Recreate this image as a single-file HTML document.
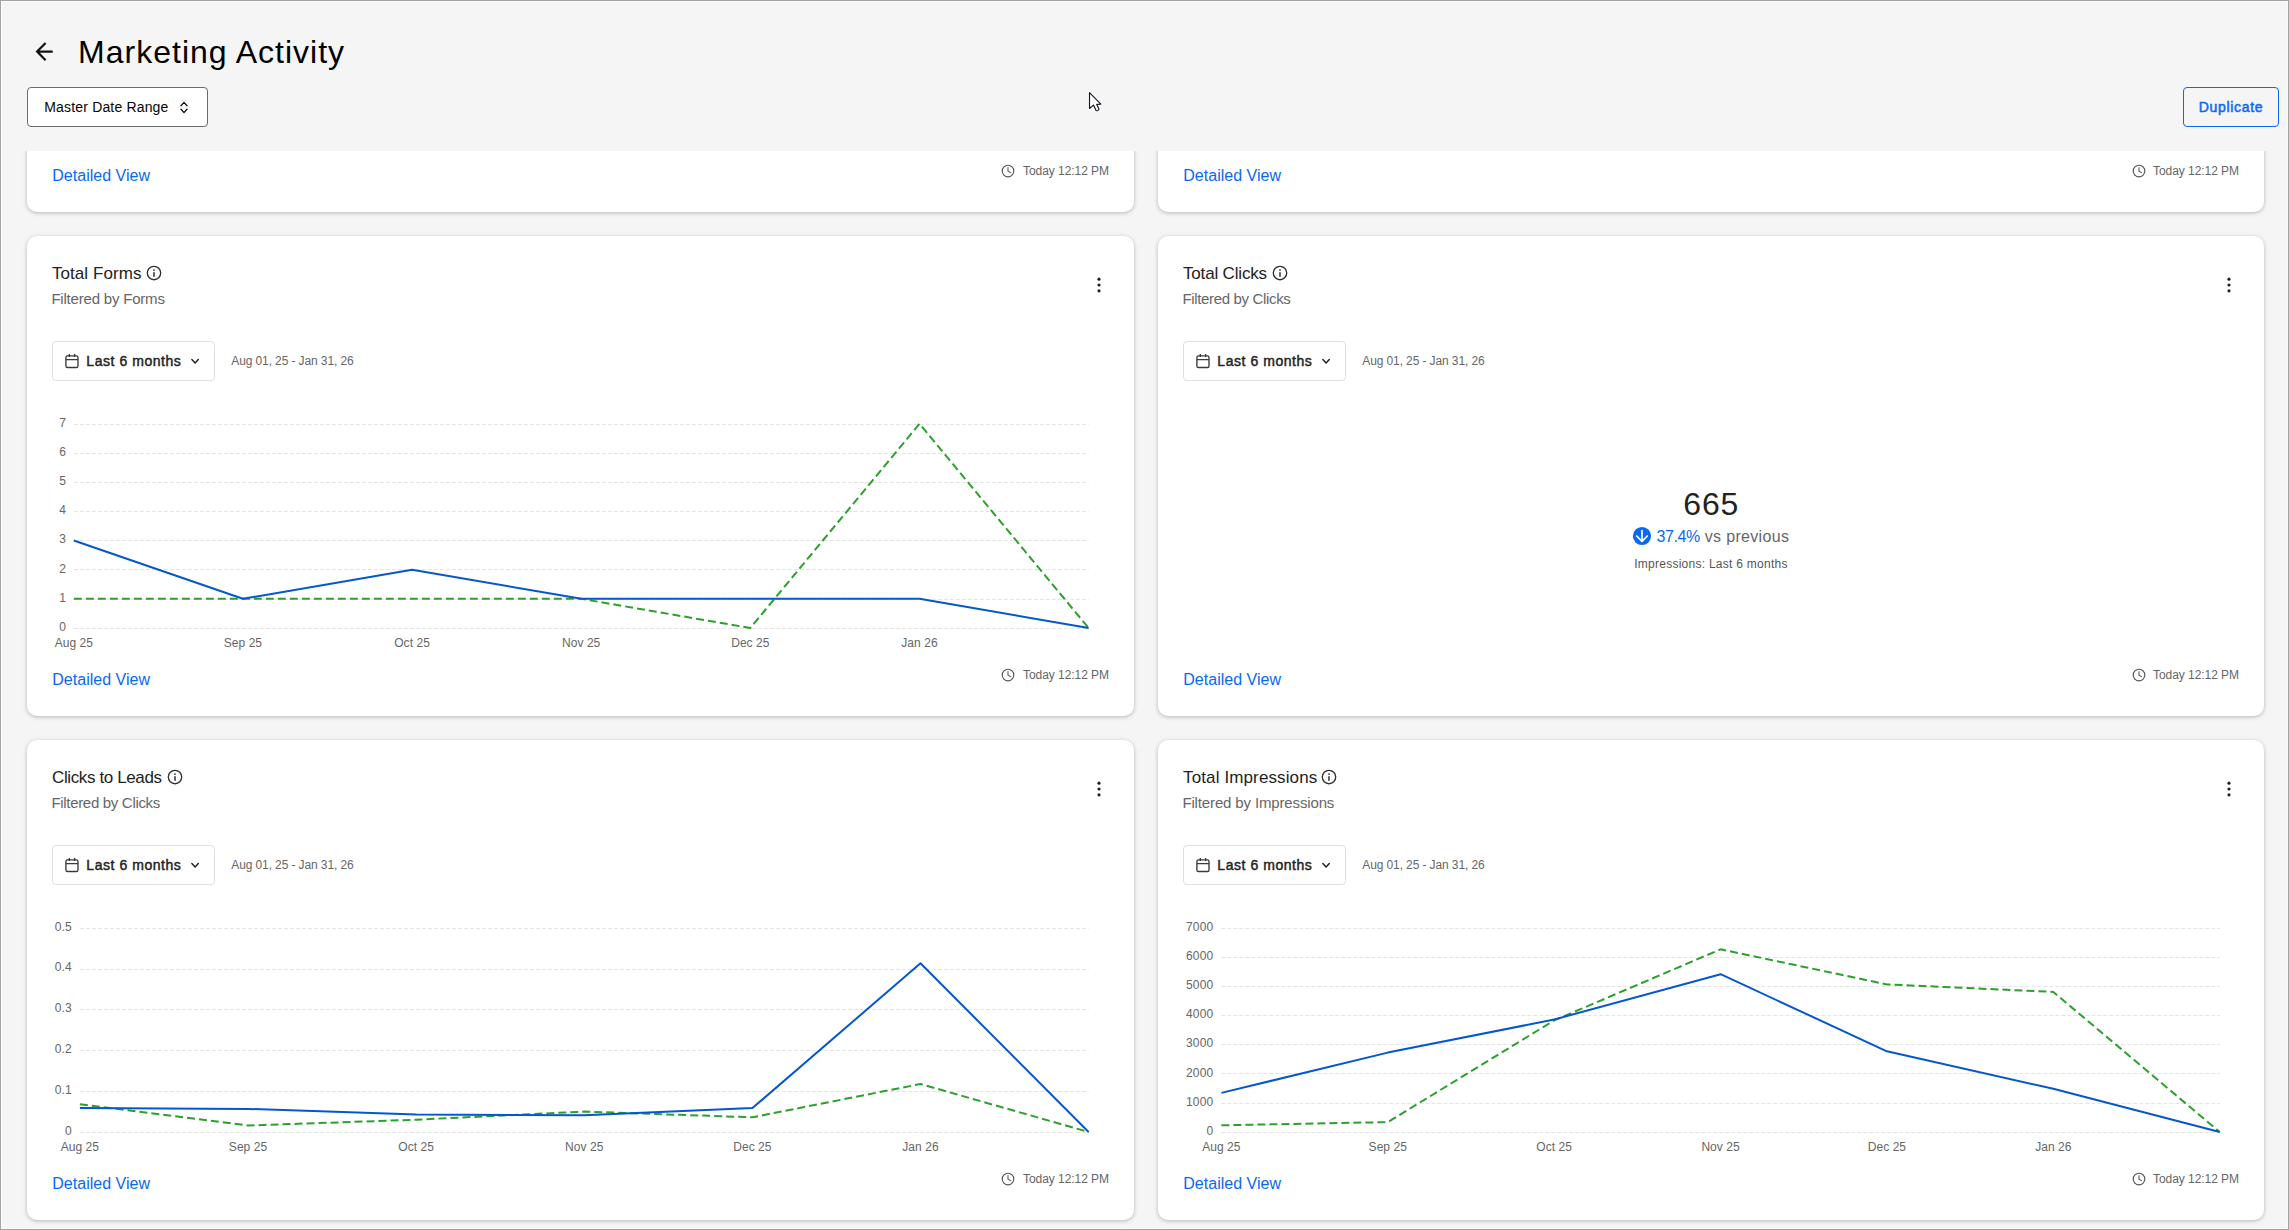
<!DOCTYPE html>
<html lang="en"><head><meta charset="utf-8"><title>Marketing Activity</title>
<style>
*{box-sizing:border-box;margin:0;padding:0}
html,body{width:2289px;height:1230px;overflow:hidden;background:#f5f5f5;font-family:"Liberation Sans",sans-serif;}
body{position:relative}
.a{position:absolute;display:block}
.t{position:absolute;white-space:nowrap;display:block}
.card{position:absolute;height:480px;background:#fff;border-radius:10px;box-shadow:0 1px 4px rgba(0,0,0,.26);}
.btn{background:#fff;border:1px solid #e0e0e0;border-radius:4px}
#hdr{position:absolute;left:0;top:0;width:2289px;height:151px;background:#f5f5f5;z-index:5}
#frame{position:absolute;left:0;top:0;width:2289px;height:1230px;border:1px solid #a3a3a3;z-index:9;pointer-events:none}
#frame2{position:absolute;left:1px;top:1px;width:2287px;height:1228px;border:1px solid #fafafa;border-left-color:#fff;z-index:8;pointer-events:none}
</style></head><body>
<div class="card" style="left:27px;top:-268px;width:1107px"><span id="c0dv" class="t dv" style="top:432.16px;font-size:16px;line-height:24px;color:#0969f0;letter-spacing:0.01px;left:25.30px;">Detailed View</span><svg class="a" style="left:972.90px;top:430.90px" width="16" height="16" viewBox="0 0 16 16"><circle cx="8" cy="8" r="5.8" fill="none" stroke="#555" stroke-width="1.15"/><path d="M8 4.6 V8.2 L10.4 9.6" fill="none" stroke="#666" stroke-width="1.15" stroke-linecap="round" stroke-linejoin="round"/></svg><span id="c0ts" class="t ts" style="top:429.74px;font-size:12px;line-height:18px;color:#666;letter-spacing:-0.05px;right:25.00px;">Today 12:12 PM</span></div><div class="card" style="left:1158px;top:-268px;width:1106px"><span id="c00dv" class="t dv" style="top:432.16px;font-size:16px;line-height:24px;color:#0969f0;letter-spacing:0.01px;left:25.30px;">Detailed View</span><svg class="a" style="left:972.90px;top:430.90px" width="16" height="16" viewBox="0 0 16 16"><circle cx="8" cy="8" r="5.8" fill="none" stroke="#555" stroke-width="1.15"/><path d="M8 4.6 V8.2 L10.4 9.6" fill="none" stroke="#666" stroke-width="1.15" stroke-linecap="round" stroke-linejoin="round"/></svg><span id="c00ts" class="t ts" style="top:429.74px;font-size:12px;line-height:18px;color:#666;letter-spacing:-0.05px;right:25.00px;">Today 12:12 PM</span></div><div class="card" style="left:27px;top:236px;width:1107px"><span id="c1t" class="t ct" style="top:25.81px;font-size:17px;line-height:24px;color:#222;letter-spacing:0.06px;left:25.00px;">Total Forms</span><span id="c1s" class="t cs" style="top:53.40px;font-size:15px;line-height:20px;color:#666;letter-spacing:-0.2px;left:24.40px;">Filtered by Forms</span><svg class="a" style="left:117.90px;top:28.00px" width="18" height="18" viewBox="0 0 18 18"><circle cx="9" cy="9" r="6.7" fill="none" stroke="#2f2f2f" stroke-width="1.35"/><rect x="8.25" y="5.3" width="1.5" height="1.6" fill="#2f2f2f"/><rect x="8.25" y="8.2" width="1.5" height="4.6" fill="#2f2f2f"/></svg><svg class="a" style="left:1068.00px;top:39.00px" width="8" height="20" viewBox="0 0 8 20"><circle cx="4" cy="4.15" r="1.55" fill="#1c1c1c"/><circle cx="4" cy="10" r="1.55" fill="#1c1c1c"/><circle cx="4" cy="15.85" r="1.55" fill="#1c1c1c"/></svg><div class="a btn" style="left:25px;top:105px;width:163px;height:40px"></div><svg class="a" style="left:36px;top:116px" width="18" height="18" viewBox="0 0 18 18"><rect x="2.9" y="3.9" width="12.1" height="11.6" rx="1.6" fill="none" stroke="#3a3a3a" stroke-width="1.35"/><path d="M2.9 7.6 H15 M6.3 2 V5 M11.6 2 V5" fill="none" stroke="#3a3a3a" stroke-width="1.35"/></svg><span class="t l6" style="top:115.05px;font-size:14px;line-height:20px;color:#222;letter-spacing:0.55px;-webkit-text-stroke:0.45px #222;left:59.30px;">Last 6 months</span><svg class="a" style="left:161px;top:117px" width="16" height="16" viewBox="0 0 16 16"><path d="M3.9 6.6 L7.1 9.9 L10.3 6.6" fill="none" stroke="#222" stroke-width="1.5" stroke-linecap="round" stroke-linejoin="round"/></svg><span class="t dr" style="top:115.84px;font-size:12px;line-height:18px;color:#666;letter-spacing:-0.11px;left:204.30px;">Aug 01, 25 - Jan 31, 26</span><svg class="a" style="left:0;top:0" width="1107" height="480" viewBox="0 0 1107 480"><line x1="46.8" y1="188.5" x2="1061.6" y2="188.5" stroke="#e4e4e4" stroke-width="1" stroke-dasharray="4 2"/><line x1="46.8" y1="217.5" x2="1061.6" y2="217.5" stroke="#e4e4e4" stroke-width="1" stroke-dasharray="4 2"/><line x1="46.8" y1="246.5" x2="1061.6" y2="246.5" stroke="#e4e4e4" stroke-width="1" stroke-dasharray="4 2"/><line x1="46.8" y1="275.5" x2="1061.6" y2="275.5" stroke="#e4e4e4" stroke-width="1" stroke-dasharray="4 2"/><line x1="46.8" y1="304.5" x2="1061.6" y2="304.5" stroke="#e4e4e4" stroke-width="1" stroke-dasharray="4 2"/><line x1="46.8" y1="333.5" x2="1061.6" y2="333.5" stroke="#e4e4e4" stroke-width="1" stroke-dasharray="4 2"/><line x1="46.8" y1="363.5" x2="1061.6" y2="363.5" stroke="#e4e4e4" stroke-width="1" stroke-dasharray="4 2"/><line x1="46.8" y1="392.5" x2="1061.6" y2="392.5" stroke="#e4e4e4" stroke-width="1" stroke-dasharray="4 2"/><polyline points="46.8,362.8 215.9,362.8 385.1,362.8 554.2,362.8 723.3,392.0 892.5,187.8 1061.6,392.0" fill="none" stroke="#2ca02c" stroke-width="2" stroke-dasharray="8 4" stroke-linejoin="round"/><polyline points="46.8,304.5 215.9,362.8 385.1,333.7 554.2,362.8 723.3,362.8 892.5,362.8 1061.6,392.0" fill="none" stroke="#0457cc" stroke-width="2" stroke-linejoin="round"/></svg><span class="t yl" style="top:178.64px;font-size:12px;line-height:16px;color:#666666;letter-spacing:0.15px;left:39.00px;transform:translateX(-100%);">7</span><span class="t yl" style="top:207.81px;font-size:12px;line-height:16px;color:#666666;letter-spacing:0.15px;left:39.00px;transform:translateX(-100%);">6</span><span class="t yl" style="top:236.98px;font-size:12px;line-height:16px;color:#666666;letter-spacing:0.15px;left:39.00px;transform:translateX(-100%);">5</span><span class="t yl" style="top:266.16px;font-size:12px;line-height:16px;color:#666666;letter-spacing:0.15px;left:39.00px;transform:translateX(-100%);">4</span><span class="t yl" style="top:295.33px;font-size:12px;line-height:16px;color:#666666;letter-spacing:0.15px;left:39.00px;transform:translateX(-100%);">3</span><span class="t yl" style="top:324.50px;font-size:12px;line-height:16px;color:#666666;letter-spacing:0.15px;left:39.00px;transform:translateX(-100%);">2</span><span class="t yl" style="top:353.67px;font-size:12px;line-height:16px;color:#666666;letter-spacing:0.15px;left:39.00px;transform:translateX(-100%);">1</span><span class="t yl" style="top:382.84px;font-size:12px;line-height:16px;color:#666666;letter-spacing:0.15px;left:39.00px;transform:translateX(-100%);">0</span><span class="t xl" style="top:398.94px;font-size:12px;line-height:16px;color:#666666;letter-spacing:0.05px;left:46.80px;transform:translateX(-50%);">Aug 25</span><span class="t xl" style="top:398.94px;font-size:12px;line-height:16px;color:#666666;letter-spacing:0.05px;left:215.93px;transform:translateX(-50%);">Sep 25</span><span class="t xl" style="top:398.94px;font-size:12px;line-height:16px;color:#666666;letter-spacing:0.05px;left:385.07px;transform:translateX(-50%);">Oct 25</span><span class="t xl" style="top:398.94px;font-size:12px;line-height:16px;color:#666666;letter-spacing:0.05px;left:554.20px;transform:translateX(-50%);">Nov 25</span><span class="t xl" style="top:398.94px;font-size:12px;line-height:16px;color:#666666;letter-spacing:0.05px;left:723.33px;transform:translateX(-50%);">Dec 25</span><span class="t xl" style="top:398.94px;font-size:12px;line-height:16px;color:#666666;letter-spacing:0.05px;left:892.47px;transform:translateX(-50%);">Jan 26</span><span id="c1dv" class="t dv" style="top:432.16px;font-size:16px;line-height:24px;color:#0969f0;letter-spacing:0.01px;left:25.30px;">Detailed View</span><svg class="a" style="left:972.90px;top:430.90px" width="16" height="16" viewBox="0 0 16 16"><circle cx="8" cy="8" r="5.8" fill="none" stroke="#555" stroke-width="1.15"/><path d="M8 4.6 V8.2 L10.4 9.6" fill="none" stroke="#666" stroke-width="1.15" stroke-linecap="round" stroke-linejoin="round"/></svg><span id="c1ts" class="t ts" style="top:429.74px;font-size:12px;line-height:18px;color:#666;letter-spacing:-0.05px;right:25.00px;">Today 12:12 PM</span></div><div class="card" style="left:1158px;top:236px;width:1106px"><span id="c2t" class="t ct" style="top:25.81px;font-size:17px;line-height:24px;color:#222;letter-spacing:-0.17px;left:25.00px;">Total Clicks</span><span id="c2s" class="t cs" style="top:53.40px;font-size:15px;line-height:20px;color:#666;letter-spacing:-0.34px;left:24.40px;">Filtered by Clicks</span><svg class="a" style="left:113.00px;top:28.00px" width="18" height="18" viewBox="0 0 18 18"><circle cx="9" cy="9" r="6.7" fill="none" stroke="#2f2f2f" stroke-width="1.35"/><rect x="8.25" y="5.3" width="1.5" height="1.6" fill="#2f2f2f"/><rect x="8.25" y="8.2" width="1.5" height="4.6" fill="#2f2f2f"/></svg><svg class="a" style="left:1067.00px;top:39.00px" width="8" height="20" viewBox="0 0 8 20"><circle cx="4" cy="4.15" r="1.55" fill="#1c1c1c"/><circle cx="4" cy="10" r="1.55" fill="#1c1c1c"/><circle cx="4" cy="15.85" r="1.55" fill="#1c1c1c"/></svg><div class="a btn" style="left:25px;top:105px;width:163px;height:40px"></div><svg class="a" style="left:36px;top:116px" width="18" height="18" viewBox="0 0 18 18"><rect x="2.9" y="3.9" width="12.1" height="11.6" rx="1.6" fill="none" stroke="#3a3a3a" stroke-width="1.35"/><path d="M2.9 7.6 H15 M6.3 2 V5 M11.6 2 V5" fill="none" stroke="#3a3a3a" stroke-width="1.35"/></svg><span class="t l6" style="top:115.05px;font-size:14px;line-height:20px;color:#222;letter-spacing:0.55px;-webkit-text-stroke:0.45px #222;left:59.30px;">Last 6 months</span><svg class="a" style="left:161px;top:117px" width="16" height="16" viewBox="0 0 16 16"><path d="M3.9 6.6 L7.1 9.9 L10.3 6.6" fill="none" stroke="#222" stroke-width="1.5" stroke-linecap="round" stroke-linejoin="round"/></svg><span class="t dr" style="top:115.84px;font-size:12px;line-height:18px;color:#666;letter-spacing:-0.11px;left:204.30px;">Aug 01, 25 - Jan 31, 26</span><span class="t kpi" style="top:248.11px;font-size:32px;line-height:40px;color:#222;letter-spacing:0.8px;left:553.20px;transform:translateX(-50%);">665</span><svg class="a" style="left:473.90px;top:289.90px" width="20" height="20" viewBox="0 0 20 20"><circle cx="10" cy="10" r="9.1" fill="#0969f0"/><path d="M10 4.6 V15 M4.7 10 L10 15.4 L15.3 10" fill="none" stroke="#fff" stroke-width="1.7" stroke-linecap="round" stroke-linejoin="round"/></svg><span class="t pct" style="top:288.96px;font-size:16px;line-height:24px;color:#0969f0;letter-spacing:-0.4px;left:498.40px;">37.4%</span><span class="t vs" style="top:288.96px;font-size:16px;line-height:24px;color:#666;letter-spacing:0.32px;left:546.80px;">vs previous</span><span class="t kp3" style="top:318.84px;font-size:12px;line-height:18px;color:#555;letter-spacing:0.26px;left:476.20px;">Impressions: Last 6 months</span><span id="c2dv" class="t dv" style="top:432.16px;font-size:16px;line-height:24px;color:#0969f0;letter-spacing:0.01px;left:25.30px;">Detailed View</span><svg class="a" style="left:972.90px;top:430.90px" width="16" height="16" viewBox="0 0 16 16"><circle cx="8" cy="8" r="5.8" fill="none" stroke="#555" stroke-width="1.15"/><path d="M8 4.6 V8.2 L10.4 9.6" fill="none" stroke="#666" stroke-width="1.15" stroke-linecap="round" stroke-linejoin="round"/></svg><span id="c2ts" class="t ts" style="top:429.74px;font-size:12px;line-height:18px;color:#666;letter-spacing:-0.05px;right:25.00px;">Today 12:12 PM</span></div><div class="card" style="left:27px;top:740px;width:1107px"><span id="c3t" class="t ct" style="top:25.81px;font-size:17px;line-height:24px;color:#222;letter-spacing:-0.38px;left:25.00px;">Clicks to Leads</span><span id="c3s" class="t cs" style="top:53.40px;font-size:15px;line-height:20px;color:#666;letter-spacing:-0.31px;left:24.40px;">Filtered by Clicks</span><svg class="a" style="left:139.00px;top:28.00px" width="18" height="18" viewBox="0 0 18 18"><circle cx="9" cy="9" r="6.7" fill="none" stroke="#2f2f2f" stroke-width="1.35"/><rect x="8.25" y="5.3" width="1.5" height="1.6" fill="#2f2f2f"/><rect x="8.25" y="8.2" width="1.5" height="4.6" fill="#2f2f2f"/></svg><svg class="a" style="left:1068.00px;top:39.00px" width="8" height="20" viewBox="0 0 8 20"><circle cx="4" cy="4.15" r="1.55" fill="#1c1c1c"/><circle cx="4" cy="10" r="1.55" fill="#1c1c1c"/><circle cx="4" cy="15.85" r="1.55" fill="#1c1c1c"/></svg><div class="a btn" style="left:25px;top:105px;width:163px;height:40px"></div><svg class="a" style="left:36px;top:116px" width="18" height="18" viewBox="0 0 18 18"><rect x="2.9" y="3.9" width="12.1" height="11.6" rx="1.6" fill="none" stroke="#3a3a3a" stroke-width="1.35"/><path d="M2.9 7.6 H15 M6.3 2 V5 M11.6 2 V5" fill="none" stroke="#3a3a3a" stroke-width="1.35"/></svg><span class="t l6" style="top:115.05px;font-size:14px;line-height:20px;color:#222;letter-spacing:0.55px;-webkit-text-stroke:0.45px #222;left:59.30px;">Last 6 months</span><svg class="a" style="left:161px;top:117px" width="16" height="16" viewBox="0 0 16 16"><path d="M3.9 6.6 L7.1 9.9 L10.3 6.6" fill="none" stroke="#222" stroke-width="1.5" stroke-linecap="round" stroke-linejoin="round"/></svg><span class="t dr" style="top:115.84px;font-size:12px;line-height:18px;color:#666;letter-spacing:-0.11px;left:204.30px;">Aug 01, 25 - Jan 31, 26</span><svg class="a" style="left:0;top:0" width="1107" height="480" viewBox="0 0 1107 480"><line x1="52.9" y1="188.5" x2="1061.6" y2="188.5" stroke="#e4e4e4" stroke-width="1" stroke-dasharray="4 2"/><line x1="52.9" y1="229.5" x2="1061.6" y2="229.5" stroke="#e4e4e4" stroke-width="1" stroke-dasharray="4 2"/><line x1="52.9" y1="269.5" x2="1061.6" y2="269.5" stroke="#e4e4e4" stroke-width="1" stroke-dasharray="4 2"/><line x1="52.9" y1="310.5" x2="1061.6" y2="310.5" stroke="#e4e4e4" stroke-width="1" stroke-dasharray="4 2"/><line x1="52.9" y1="351.5" x2="1061.6" y2="351.5" stroke="#e4e4e4" stroke-width="1" stroke-dasharray="4 2"/><line x1="52.9" y1="392.5" x2="1061.6" y2="392.5" stroke="#e4e4e4" stroke-width="1" stroke-dasharray="4 2"/><polyline points="52.9,364.2 221.0,385.5 389.1,379.7 557.2,371.6 725.4,377.3 893.5,344.0 1061.6,392.0" fill="none" stroke="#2ca02c" stroke-width="2" stroke-dasharray="8 4" stroke-linejoin="round"/><polyline points="52.9,368.1 221.0,368.9 389.1,374.4 557.2,375.3 725.4,368.1 893.5,223.3 1061.6,392.0" fill="none" stroke="#0457cc" stroke-width="2" stroke-linejoin="round"/></svg><span class="t yl" style="top:178.64px;font-size:12px;line-height:16px;color:#666666;letter-spacing:0.15px;left:44.80px;transform:translateX(-100%);">0.5</span><span class="t yl" style="top:219.48px;font-size:12px;line-height:16px;color:#666666;letter-spacing:0.15px;left:44.80px;transform:translateX(-100%);">0.4</span><span class="t yl" style="top:260.32px;font-size:12px;line-height:16px;color:#666666;letter-spacing:0.15px;left:44.80px;transform:translateX(-100%);">0.3</span><span class="t yl" style="top:301.16px;font-size:12px;line-height:16px;color:#666666;letter-spacing:0.15px;left:44.80px;transform:translateX(-100%);">0.2</span><span class="t yl" style="top:342.00px;font-size:12px;line-height:16px;color:#666666;letter-spacing:0.15px;left:44.80px;transform:translateX(-100%);">0.1</span><span class="t yl" style="top:382.84px;font-size:12px;line-height:16px;color:#666666;letter-spacing:0.15px;left:44.80px;transform:translateX(-100%);">0</span><span class="t xl" style="top:398.94px;font-size:12px;line-height:16px;color:#666666;letter-spacing:0.05px;left:52.90px;transform:translateX(-50%);">Aug 25</span><span class="t xl" style="top:398.94px;font-size:12px;line-height:16px;color:#666666;letter-spacing:0.05px;left:221.02px;transform:translateX(-50%);">Sep 25</span><span class="t xl" style="top:398.94px;font-size:12px;line-height:16px;color:#666666;letter-spacing:0.05px;left:389.13px;transform:translateX(-50%);">Oct 25</span><span class="t xl" style="top:398.94px;font-size:12px;line-height:16px;color:#666666;letter-spacing:0.05px;left:557.25px;transform:translateX(-50%);">Nov 25</span><span class="t xl" style="top:398.94px;font-size:12px;line-height:16px;color:#666666;letter-spacing:0.05px;left:725.37px;transform:translateX(-50%);">Dec 25</span><span class="t xl" style="top:398.94px;font-size:12px;line-height:16px;color:#666666;letter-spacing:0.05px;left:893.48px;transform:translateX(-50%);">Jan 26</span><span id="c3dv" class="t dv" style="top:432.16px;font-size:16px;line-height:24px;color:#0969f0;letter-spacing:0.01px;left:25.30px;">Detailed View</span><svg class="a" style="left:972.90px;top:430.90px" width="16" height="16" viewBox="0 0 16 16"><circle cx="8" cy="8" r="5.8" fill="none" stroke="#555" stroke-width="1.15"/><path d="M8 4.6 V8.2 L10.4 9.6" fill="none" stroke="#666" stroke-width="1.15" stroke-linecap="round" stroke-linejoin="round"/></svg><span id="c3ts" class="t ts" style="top:429.74px;font-size:12px;line-height:18px;color:#666;letter-spacing:-0.05px;right:25.00px;">Today 12:12 PM</span></div><div class="card" style="left:1158px;top:740px;width:1106px"><span id="c4t" class="t ct" style="top:25.81px;font-size:17px;line-height:24px;color:#222;letter-spacing:0.125px;left:25.00px;">Total Impressions</span><span id="c4s" class="t cs" style="top:53.40px;font-size:15px;line-height:20px;color:#666;letter-spacing:-0.14px;left:24.40px;">Filtered by Impressions</span><svg class="a" style="left:162.00px;top:28.00px" width="18" height="18" viewBox="0 0 18 18"><circle cx="9" cy="9" r="6.7" fill="none" stroke="#2f2f2f" stroke-width="1.35"/><rect x="8.25" y="5.3" width="1.5" height="1.6" fill="#2f2f2f"/><rect x="8.25" y="8.2" width="1.5" height="4.6" fill="#2f2f2f"/></svg><svg class="a" style="left:1067.00px;top:39.00px" width="8" height="20" viewBox="0 0 8 20"><circle cx="4" cy="4.15" r="1.55" fill="#1c1c1c"/><circle cx="4" cy="10" r="1.55" fill="#1c1c1c"/><circle cx="4" cy="15.85" r="1.55" fill="#1c1c1c"/></svg><div class="a btn" style="left:25px;top:105px;width:163px;height:40px"></div><svg class="a" style="left:36px;top:116px" width="18" height="18" viewBox="0 0 18 18"><rect x="2.9" y="3.9" width="12.1" height="11.6" rx="1.6" fill="none" stroke="#3a3a3a" stroke-width="1.35"/><path d="M2.9 7.6 H15 M6.3 2 V5 M11.6 2 V5" fill="none" stroke="#3a3a3a" stroke-width="1.35"/></svg><span class="t l6" style="top:115.05px;font-size:14px;line-height:20px;color:#222;letter-spacing:0.55px;-webkit-text-stroke:0.45px #222;left:59.30px;">Last 6 months</span><svg class="a" style="left:161px;top:117px" width="16" height="16" viewBox="0 0 16 16"><path d="M3.9 6.6 L7.1 9.9 L10.3 6.6" fill="none" stroke="#222" stroke-width="1.5" stroke-linecap="round" stroke-linejoin="round"/></svg><span class="t dr" style="top:115.84px;font-size:12px;line-height:18px;color:#666;letter-spacing:-0.11px;left:204.30px;">Aug 01, 25 - Jan 31, 26</span><svg class="a" style="left:0;top:0" width="1107" height="480" viewBox="0 0 1107 480"><line x1="63.4" y1="188.5" x2="1061.7" y2="188.5" stroke="#e4e4e4" stroke-width="1" stroke-dasharray="4 2"/><line x1="63.4" y1="217.5" x2="1061.7" y2="217.5" stroke="#e4e4e4" stroke-width="1" stroke-dasharray="4 2"/><line x1="63.4" y1="246.5" x2="1061.7" y2="246.5" stroke="#e4e4e4" stroke-width="1" stroke-dasharray="4 2"/><line x1="63.4" y1="275.5" x2="1061.7" y2="275.5" stroke="#e4e4e4" stroke-width="1" stroke-dasharray="4 2"/><line x1="63.4" y1="304.5" x2="1061.7" y2="304.5" stroke="#e4e4e4" stroke-width="1" stroke-dasharray="4 2"/><line x1="63.4" y1="333.5" x2="1061.7" y2="333.5" stroke="#e4e4e4" stroke-width="1" stroke-dasharray="4 2"/><line x1="63.4" y1="363.5" x2="1061.7" y2="363.5" stroke="#e4e4e4" stroke-width="1" stroke-dasharray="4 2"/><line x1="63.4" y1="392.5" x2="1061.7" y2="392.5" stroke="#e4e4e4" stroke-width="1" stroke-dasharray="4 2"/><polyline points="63.4,385.3 229.8,382.1 396.2,280.4 562.6,209.3 728.9,244.4 895.3,251.9 1061.7,392.0" fill="none" stroke="#2ca02c" stroke-width="2" stroke-dasharray="8 4" stroke-linejoin="round"/><polyline points="63.4,352.9 229.8,312.6 396.2,279.5 562.6,234.2 728.9,311.3 895.3,348.8 1061.7,392.0" fill="none" stroke="#0457cc" stroke-width="2" stroke-linejoin="round"/></svg><span class="t yl" style="top:178.64px;font-size:12px;line-height:16px;color:#666666;letter-spacing:0.15px;left:55.30px;transform:translateX(-100%);">7000</span><span class="t yl" style="top:207.81px;font-size:12px;line-height:16px;color:#666666;letter-spacing:0.15px;left:55.30px;transform:translateX(-100%);">6000</span><span class="t yl" style="top:236.98px;font-size:12px;line-height:16px;color:#666666;letter-spacing:0.15px;left:55.30px;transform:translateX(-100%);">5000</span><span class="t yl" style="top:266.16px;font-size:12px;line-height:16px;color:#666666;letter-spacing:0.15px;left:55.30px;transform:translateX(-100%);">4000</span><span class="t yl" style="top:295.33px;font-size:12px;line-height:16px;color:#666666;letter-spacing:0.15px;left:55.30px;transform:translateX(-100%);">3000</span><span class="t yl" style="top:324.50px;font-size:12px;line-height:16px;color:#666666;letter-spacing:0.15px;left:55.30px;transform:translateX(-100%);">2000</span><span class="t yl" style="top:353.67px;font-size:12px;line-height:16px;color:#666666;letter-spacing:0.15px;left:55.30px;transform:translateX(-100%);">1000</span><span class="t yl" style="top:382.84px;font-size:12px;line-height:16px;color:#666666;letter-spacing:0.15px;left:55.30px;transform:translateX(-100%);">0</span><span class="t xl" style="top:398.94px;font-size:12px;line-height:16px;color:#666666;letter-spacing:0.05px;left:63.40px;transform:translateX(-50%);">Aug 25</span><span class="t xl" style="top:398.94px;font-size:12px;line-height:16px;color:#666666;letter-spacing:0.05px;left:229.78px;transform:translateX(-50%);">Sep 25</span><span class="t xl" style="top:398.94px;font-size:12px;line-height:16px;color:#666666;letter-spacing:0.05px;left:396.17px;transform:translateX(-50%);">Oct 25</span><span class="t xl" style="top:398.94px;font-size:12px;line-height:16px;color:#666666;letter-spacing:0.05px;left:562.55px;transform:translateX(-50%);">Nov 25</span><span class="t xl" style="top:398.94px;font-size:12px;line-height:16px;color:#666666;letter-spacing:0.05px;left:728.93px;transform:translateX(-50%);">Dec 25</span><span class="t xl" style="top:398.94px;font-size:12px;line-height:16px;color:#666666;letter-spacing:0.05px;left:895.32px;transform:translateX(-50%);">Jan 26</span><span id="c4dv" class="t dv" style="top:432.16px;font-size:16px;line-height:24px;color:#0969f0;letter-spacing:0.01px;left:25.30px;">Detailed View</span><svg class="a" style="left:972.90px;top:430.90px" width="16" height="16" viewBox="0 0 16 16"><circle cx="8" cy="8" r="5.8" fill="none" stroke="#555" stroke-width="1.15"/><path d="M8 4.6 V8.2 L10.4 9.6" fill="none" stroke="#666" stroke-width="1.15" stroke-linecap="round" stroke-linejoin="round"/></svg><span id="c4ts" class="t ts" style="top:429.74px;font-size:12px;line-height:18px;color:#666;letter-spacing:-0.05px;right:25.00px;">Today 12:12 PM</span></div><div id="hdr"><svg class="a" style="left:32px;top:40px" width="24" height="24" viewBox="0 0 24 24"><path d="M20.7 11.55 H5.6 M13.6 2.9 L5.1 11.55 L13.6 20.2" fill="none" stroke="#111" stroke-width="2.2" stroke-linecap="butt" stroke-linejoin="miter"/></svg><span class="t h1" style="top:29.71px;font-size:32px;line-height:44px;color:#000;letter-spacing:1.0px;left:78.10px;">Marketing Activity</span><div class="a" style="left:27px;top:87px;width:181px;height:40px;background:#fff;border:1px solid #6b6b6b;border-radius:4px"></div><span class="t mdr" style="top:96.85px;font-size:14px;line-height:20px;color:#050505;letter-spacing:0.165px;left:44.30px;">Master Date Range</span><svg class="a" style="left:175.6px;top:99px" width="16" height="17" viewBox="0 0 16 17"><path d="M5 6.7 L8 3.4 L11 6.7 M5 10.3 L8 13.6 L11 10.3" fill="none" stroke="#111" stroke-width="1.35" stroke-linecap="round" stroke-linejoin="miter"/></svg><div class="a" style="left:2183px;top:87px;width:96px;height:40px;border:1px solid #0969f0;border-radius:4px"></div><span class="t dup" style="top:96.95px;font-size:14px;line-height:20px;color:#0969f0;letter-spacing:0.7px;-webkit-text-stroke:0.5px #0969f0;left:2198.70px;">Duplicate</span><svg class="a" style="left:1085px;top:88px" width="22" height="28" viewBox="0 0 22 28"><path d="M4.5 4.7 L4.5 20.5 L8.5 17.1 L10.9 22.2 Q11.5 23.1 12.5 22.6 L13.4 22.1 Q14.3 21.5 13.8 20.5 L11.7 16.4 L15.9 16.1 Z" fill="#fff" stroke="#fff" stroke-width="3.2" stroke-linejoin="round"/><path d="M4.5 4.7 L4.5 20.5 L8.5 17.1 L10.9 22.2 Q11.5 23.1 12.5 22.6 L13.4 22.1 Q14.3 21.5 13.8 20.5 L11.7 16.4 L15.9 16.1 Z" fill="#fff" stroke="#10131f" stroke-width="1.15" stroke-linejoin="round"/></svg></div><div id="frame2"></div><div id="frame"></div></body></html>
